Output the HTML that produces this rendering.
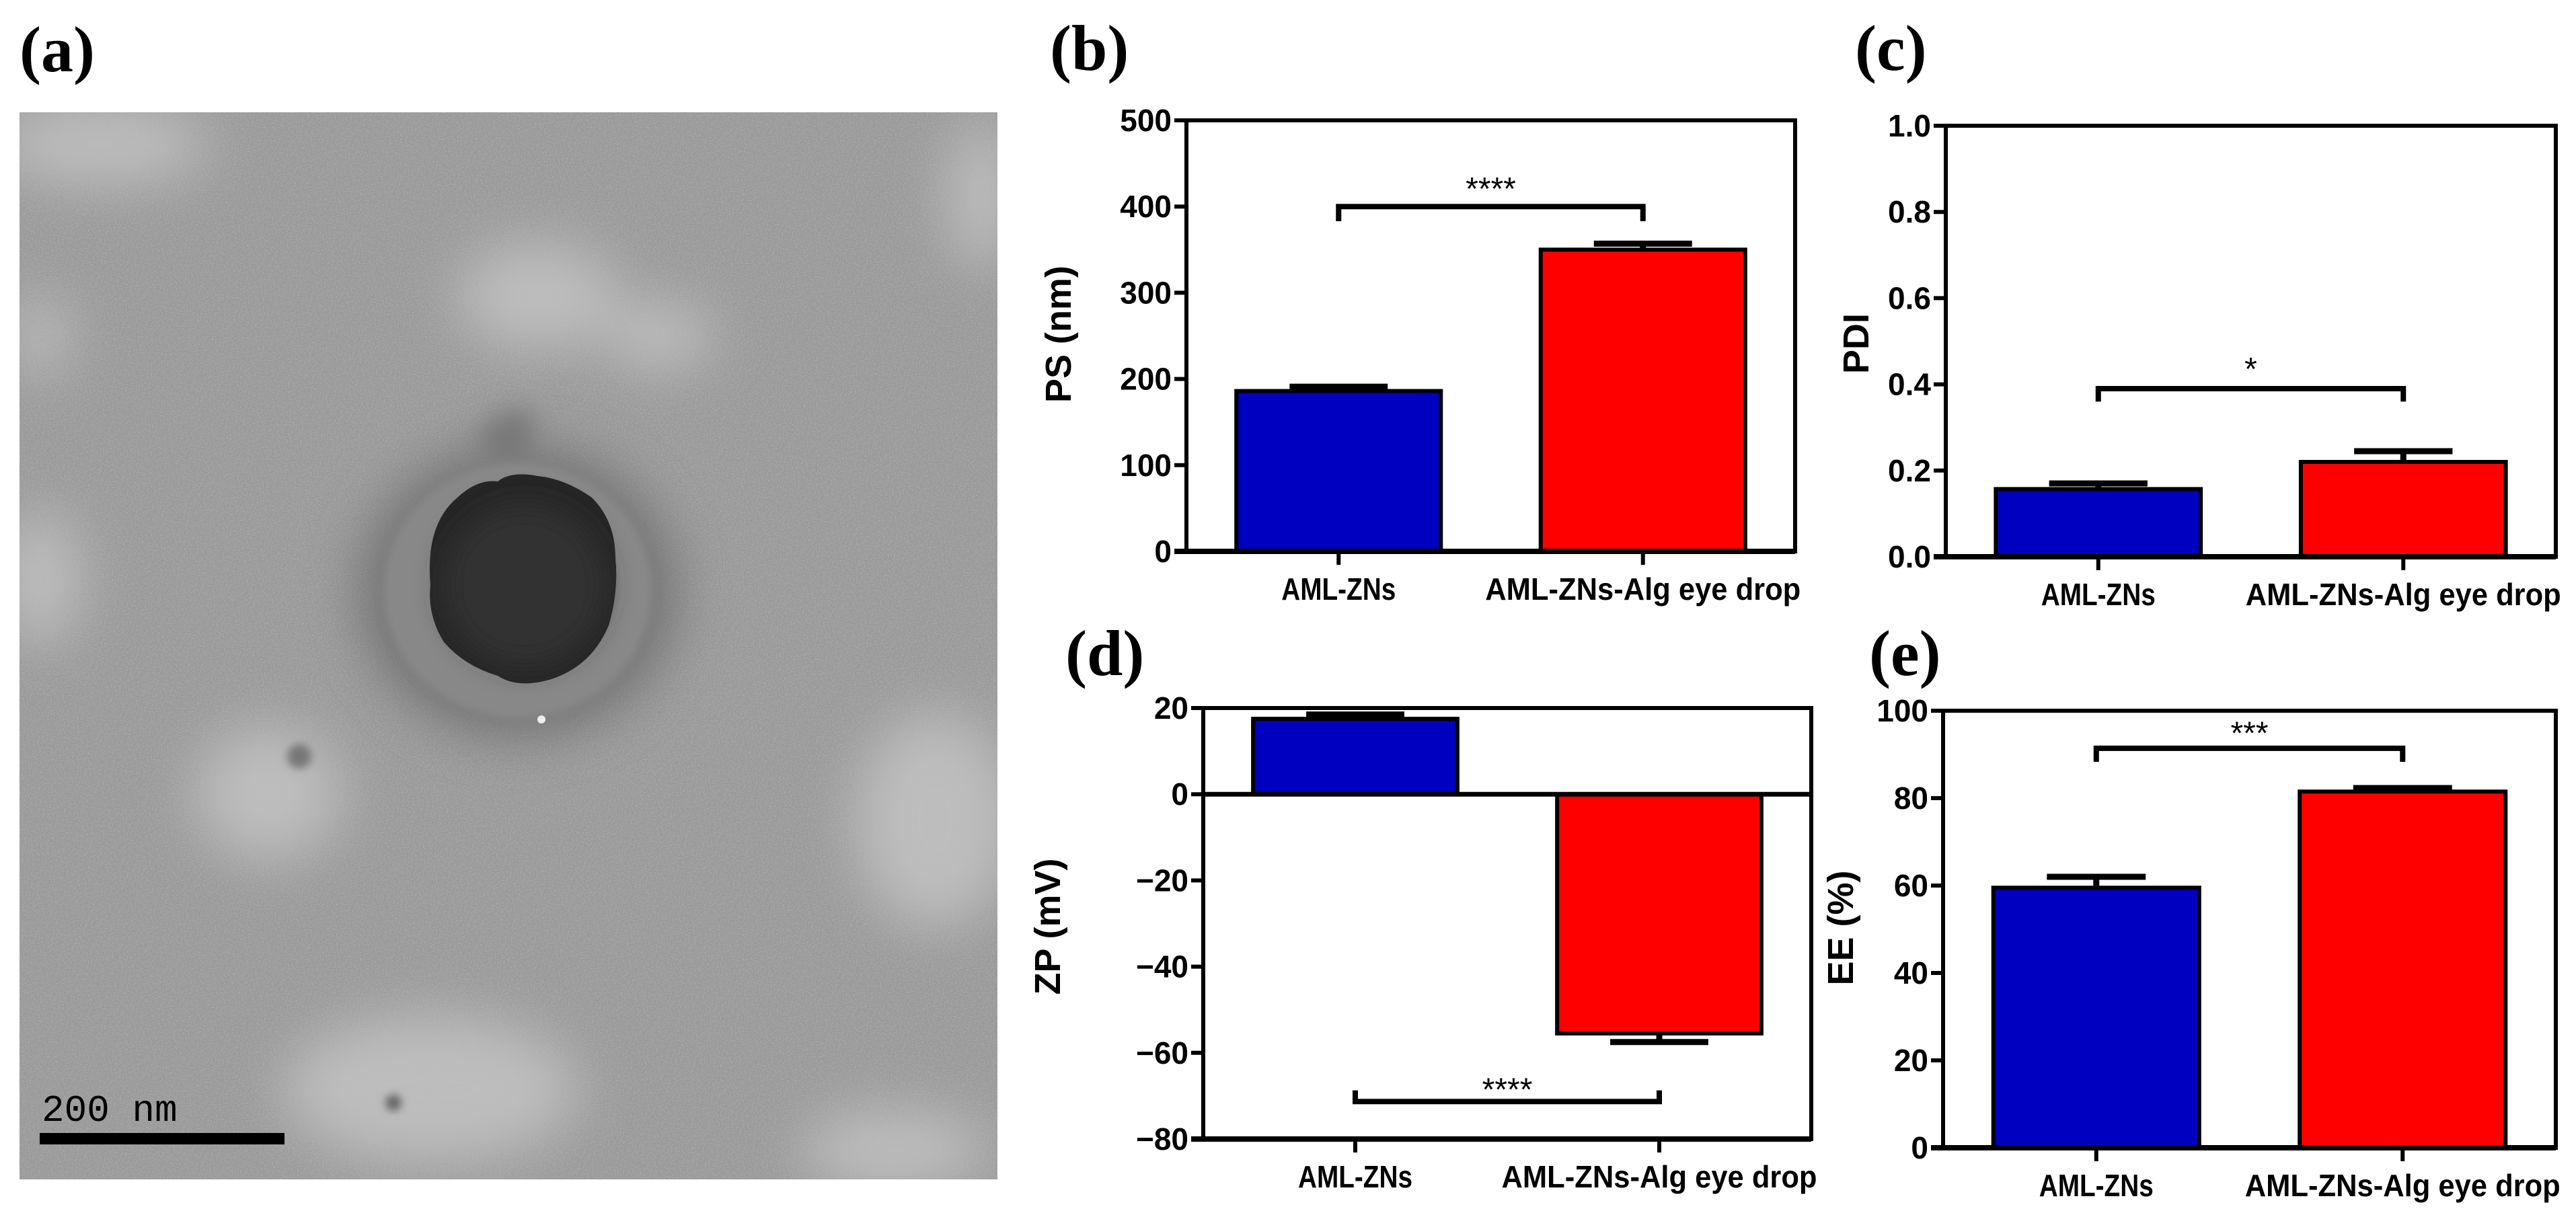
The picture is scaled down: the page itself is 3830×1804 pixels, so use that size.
<!DOCTYPE html>
<html>
<head>
<meta charset="utf-8">
<style>
  html,body{margin:0;padding:0;background:#fff;}
  svg{display:block;}
  .tick{font-family:"Liberation Sans",Arial,sans-serif;font-weight:bold;font-size:46px;fill:#000;}
  .xlab{font-family:"Liberation Sans",Arial,sans-serif;font-weight:bold;font-size:46px;fill:#000;}
  .ytitle{font-family:"Liberation Sans",Arial,sans-serif;font-weight:bold;font-size:54px;fill:#000;}
  .plabel{font-family:"Liberation Serif","Times New Roman",serif;font-weight:bold;font-size:96px;fill:#000;}
  .stars{font-family:"Liberation Sans",Arial,sans-serif;font-size:48px;fill:#000;}
</style>
</head>
<body>
<svg id="fig" xmlns="http://www.w3.org/2000/svg" width="3830" height="1804" viewBox="0 0 3830 1804">
  <defs>
    <filter id="noise" filterUnits="userSpaceOnUse" x="29" y="167" width="1454" height="1587">
      <feTurbulence type="fractalNoise" baseFrequency="0.45" numOctaves="2" seed="4" result="t"/>
      <feColorMatrix type="matrix" values="0 0 0 0 0.5  0 0 0 0 0.5  0 0 0 0 0.5  0 0 0 2.2 -0.8" />
    </filter>
    <filter id="blur40" filterUnits="userSpaceOnUse" x="0" y="0" width="1600" height="1804"><feGaussianBlur stdDeviation="40"/></filter>
    <filter id="blur20" filterUnits="userSpaceOnUse" x="0" y="0" width="1600" height="1804"><feGaussianBlur stdDeviation="20"/></filter>
    <filter id="blur6" filterUnits="userSpaceOnUse" x="0" y="0" width="1600" height="1804"><feGaussianBlur stdDeviation="6"/></filter>
    <clipPath id="imgclip"><rect x="29" y="167" width="1454" height="1587"/></clipPath>
  </defs>

  <!-- Panel (a) TEM image -->
  <text class="plabel" x="29" y="106">(a)</text>
  <g clip-path="url(#imgclip)">
    <rect x="29" y="167" width="1454" height="1587" fill="#999999"/>
    <g filter="url(#blur40)" fill="#c4c4c4" opacity="0.85">
      <ellipse cx="150" cy="215" rx="160" ry="60"/>
      <ellipse cx="800" cy="440" rx="120" ry="80"/>
      <ellipse cx="980" cy="500" rx="80" ry="50"/>
      <ellipse cx="60" cy="860" rx="60" ry="100"/>
      <ellipse cx="400" cy="1180" rx="110" ry="100"/>
      <ellipse cx="1390" cy="1220" rx="120" ry="160"/>
      <ellipse cx="1460" cy="290" rx="50" ry="110"/>
      <ellipse cx="640" cy="1620" rx="220" ry="110"/>
      <ellipse cx="1330" cy="1710" rx="140" ry="60"/>
      <ellipse cx="60" cy="500" rx="40" ry="60"/>
    </g>
    <rect x="29" y="167" width="1454" height="1587" filter="url(#noise)" opacity="0.45"/>
    <!-- particle -->
    <ellipse cx="770" cy="880" rx="235" ry="215" fill="#6a6a6a" filter="url(#blur40)" opacity="0.85"/>
    <path d="M705,660 Q740,600 790,610 Q800,660 770,700 Z" fill="#777" filter="url(#blur20)"/>
    <ellipse cx="770" cy="878" rx="200" ry="190" fill="#888" filter="url(#blur6)"/>
    <path d="M640,870 Q632,780 680,740 Q710,712 740,716 Q760,700 800,708 Q840,712 880,740 Q915,775 915,830 Q920,880 905,930 Q880,990 820,1010 Q770,1025 740,1005 Q690,990 660,955 Q635,915 640,870 Z" fill="#262626"/>
    <ellipse cx="780" cy="870" rx="120" ry="120" fill="#333" filter="url(#blur20)"/>
    <circle cx="805" cy="1070" r="6" fill="#eee"/>
    <circle cx="445" cy="1125" r="18" fill="#777" filter="url(#blur6)"/>
    <circle cx="585" cy="1640" r="12" fill="#666" filter="url(#blur6)"/>
  </g>
  <text x="62" y="1667" font-family="'Liberation Mono','Courier New',monospace" font-size="56" fill="#000">200 nm</text>
  <rect x="59" y="1685" width="364" height="17" fill="#000"/>

  <g id="charts"></g>
</svg>

<script>
// ---------- data ----------
const categories = ["AML-ZNs", "AML-ZNs-Alg eye drop"];

const psValues = [186, 350];
const psErrors = [5, 7];
const psTicks = [0, 100, 200, 300, 400, 500];
const psSig = "****";

const pdiValues = [0.157, 0.220];
const pdiErrors = [0.013, 0.025];
const pdiTicks = [0.0, 0.2, 0.4, 0.6, 0.8, 1.0];
const pdiTickLabels = ["0.0", "0.2", "0.4", "0.6", "0.8", "1.0"];
const pdiSig = "*";

const zpValues = [17.5, -55.5];
const zpErrors = [1.0, 2.0];
const zpTicks = [20, 0, -20, -40, -60, -80];
const zpSig = "****";

const eeValues = [59.5, 81.5];
const eeErrors = [2.5, 0.8];
const eeTicks = [0, 20, 40, 60, 80, 100];
const eeSig = "***";

const NS = "http://www.w3.org/2000/svg";
const root = document.getElementById("charts");
function mk(tag, attrs, parent) {
  const e = document.createElementNS(NS, tag);
  for (const k in attrs) e.setAttribute(k, attrs[k]);
  (parent || root).appendChild(e);
  return e;
}

function drawPanel(p) {
  const g = mk("g", {});
  
  
  const yMin = Math.min(...p.ticks), yMax = Math.max(...p.ticks);
  const y = v => p.B - (v - yMin) / (yMax - yMin) * (p.B - p.T);
  const W = p.R - p.L;
  const xc = i => p.L + W * (0.25 + 0.5 * i);
  const bw = W * 0.336;
  const zeroY = y(Math.max(0, yMin));

  const lab = mk("text", {class: "plabel", x: p.labX, y: p.labY}, g);
  lab.textContent = p.letter;
  
  

  p.values.forEach((v, i) => {
    const top = Math.min(y(v), zeroY), bot = Math.max(y(v), zeroY);
    const bar = mk("rect", {x: xc(i) - bw / 2, y: top, width: bw, height: bot - top,
      fill: i === 0 ? "#0000c0" : "#ff0000", stroke: "#000", "stroke-width": 6}, g);
    
    
    const sign = v >= 0 ? 1 : -1;
    const ey = y(v + sign * p.errors[i]);
    const eb = mk("path", {d: `M${xc(i)},${y(v)} L${xc(i)},${ey} M${xc(i) - bw * 0.24},${ey} L${xc(i) + bw * 0.24},${ey}`,
      stroke: "#000", "stroke-width": 9, fill: "none"}, g);
    
    
  });

  const frame = mk("rect", {x: p.L, y: p.T, width: W, height: p.B - p.T, fill: "none", stroke: "#000", "stroke-width": 6}, g);
  
  
  const xa = mk("line", {x1: p.L - 18, x2: p.R, y1: p.B, y2: p.B, stroke: "#000", "stroke-width": 8}, g);
  
  
  if (yMin < 0) {
    const zl = mk("line", {x1: p.L, x2: p.R, y1: zeroY, y2: zeroY, stroke: "#000", "stroke-width": 7}, g);
    
    
  }

  p.ticks.forEach((t, i) => {
    mk("line", {x1: p.L - 18, x2: p.L, y1: y(t), y2: y(t), stroke: "#000", "stroke-width": 6}, g);
    const tl = mk("text", {class: "tick", x: p.L - 22, y: y(t) + 16, "text-anchor": "end"}, g);
    tl.textContent = p.tickLabels ? p.tickLabels[i] : (t < 0 ? "\u2212" + Math.abs(t) : String(t));
    
    
  });

  categories.forEach((c, i) => {
    mk("line", {x1: xc(i), x2: xc(i), y1: p.B, y2: p.B + 20, stroke: "#000", "stroke-width": 6}, g);
    const t = mk("text", {class: "xlab", x: xc(i), y: p.B + 72, "text-anchor": "middle",
      textLength: i === 0 ? 170 : 469, lengthAdjust: "spacingAndGlyphs"}, g);
    t.textContent = c;
    
    
  });

  const yt = mk("text", {class: "ytitle", x: 0, y: 0, "text-anchor": "middle",
    transform: `translate(${p.titleX},${p.titleY}) rotate(-90)`}, g);
  yt.textContent = p.title;
  
  

  const by = y(p.brY), bt = y(p.brTip);
  const br = mk("path", {d: `M${xc(0)},${bt} L${xc(0)},${by} L${xc(1)},${by} L${xc(1)},${bt}`,
    stroke: "#000", "stroke-width": 8, fill: "none"}, g);
  
  
  const st = mk("text", {class: "stars", x: (xc(0) + xc(1)) / 2, y: y(p.starY) + 22, "text-anchor": "middle"}, g);
  st.textContent = p.sig;
  
  
}

drawPanel({name: "chart-ps", letter: "(b)", labX: 1561, labY: 104, L: 1764, R: 2669, T: 179, B: 820,
  ticks: psTicks, values: psValues, errors: psErrors, title: "PS (nm)", titleX: 1592, titleY: 497,
  brY: 400, brTip: 383, starY: 425, sig: psSig});

drawPanel({name: "chart-pdi", letter: "(c)", labX: 2758, labY: 104, L: 2893, R: 3800, T: 187, B: 828,
  ticks: pdiTicks, tickLabels: pdiTickLabels, values: pdiValues, errors: pdiErrors, title: "PDI", titleX: 2778, titleY: 511,
  brY: 0.39, brTip: 0.36, starY: 0.445, sig: pdiSig});

drawPanel({name: "chart-zp", letter: "(d)", labX: 1584, labY: 1004, L: 1789, R: 2693, T: 1053, B: 1694,
  ticks: zpTicks, values: zpValues, errors: zpErrors, title: "ZP (mV)", titleX: 1576, titleY: 1378,
  brY: -71.3, brTip: -68.7, starY: -67.6, sig: zpSig});

drawPanel({name: "chart-ee", letter: "(e)", labX: 2779, labY: 1004, L: 2889, R: 3800, T: 1057, B: 1707,
  ticks: eeTicks, values: eeValues, errors: eeErrors, title: "EE (%)", titleX: 2755, titleY: 1380,
  brY: 91.4, brTip: 88.3, starY: 95.8, sig: eeSig});
</script>
</body>
</html>
